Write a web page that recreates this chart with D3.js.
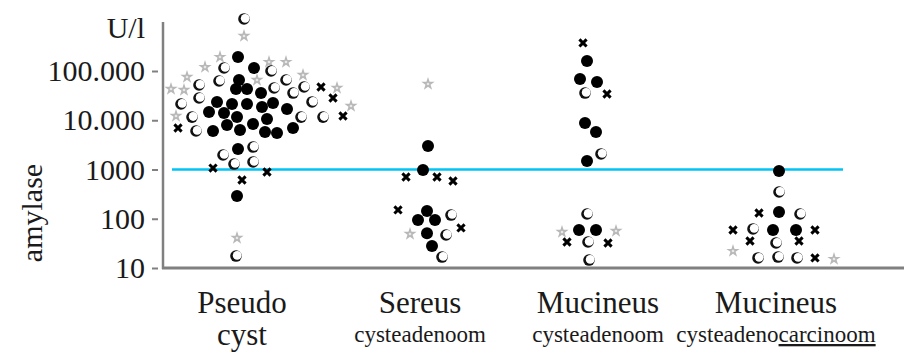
<!DOCTYPE html>
<meta charset="utf-8">
<style>
body { margin: 0; background: #fff; }
svg { display: block; }
text { font-family: "Liberation Serif", "Times New Roman", serif; fill: #1a1a1a; }
</style>
<body>
<svg id="chart" width="911" height="355"></svg>
<script src="https://cdn.jsdelivr.net/npm/d3@7"></script>
<script>

// categories (two label lines each)
var categories = ["pseudo", "sereus", "mucineus", "carcinoom"];
var labelTop = ["Pseudo", "Sereus", "Mucineus", "Mucineus"];
var labelBottom = ["cyst", "cysteadenoom", "cysteadenoom", "cysteadeno"];

var tickValues = [10, 100, 1000, 10000, 100000];
var tickLabels = ["10", "100", "1000", "10.000", "100.000"];
var cutoff = 1000;

// [marker, horizontal spread within the group, amylase U/l]
// f = filled circle, o = open circle, x = cross, s = grey star
var pseudoCyst = [
  ["o",2,1140000],["s",2,514000],["f",-4,192000],["f",12,115000],["o",-18,115000],
  ["s",-22,192000],["s",-37,120000],["s",27,152000],["s",44,152000],["o",29,100000],
  ["f",-3,65600],["o",-23,62700],["s",15,65600],["o",44,65600],["s",61,83000],
  ["o",62,47300],["s",-55,75500],["o",-43,52000],["s",-71,43100],["s",-58,41100],
  ["f",-6,43100],["f",5,43100],["f",19,35700],["o",32,45200],["o",51,35700],
  ["x",79,47300],["s",95,45200],["x",91,28300],["o",-43,28300],["f",-25,23500],
  ["f",-10,21400],["f",5,21400],["f",20,18600],["f",31,22400],["o",70,23500],
  ["s",109,19500],["o",-61,21400],["f",-33,14700],["f",-18,14000],["f",45,16900],
  ["o",-50,11600],["s",-66,12200],["f",-5,11600],["f",25,10600],["o",59,11600],
  ["o",81,11600],["x",101,12200],["x",-64,6970],["o",-46,6050],["f",-29,6050],
  ["f",-15,8010],["f",-2,6340],["f",11,8390],["f",23,5770],["f",35,5510],
  ["f",51,6970],["f",-4,2610],["o",11,2860],["o",-19,1970],["o",-8,1290],
  ["o",11,1420],["x",-29,1070],["x",25,890],["x",0,612],["f",-5,290],
  ["s",-5,40.6],["o",-6,17.5]
];

var sereus = [
  ["s",8,54500],["f",8,3000],["f",3,980],["x",-14,705],["x",17,705],
  ["x",33,584],["x",-22,151],["f",7,144],["f",-2,94],["f",15,94],
  ["o",31,119],["x",41,65],["s",-10,49],["f",7,51],["o",26,46.8],
  ["f",12,28],["o",22,16.7]
];

var mucineus = [
  ["x",-15,371000],["f",-11,160000],["f",-18,68800],["f",-1,59800],["o",-13,35700],
  ["x",9,34100],["f",-13,8790],["f",-2,5770],["o",3,2070],["f",-11,1490],
  ["o",-11,125],["s",-36,53.8],["f",-19,59],["f",-2,59],["s",18,56.4],
  ["x",-31,33.7],["o",-10,33.7],["x",10,32.2],["o",-9,14.5]
];

var carcinoom = [
  ["f",3,933],["o",3,349],["x",-17,131],["f",3,137],["o",24,125],
  ["x",-43,59],["o",-23,62],["f",-3,59],["f",20,59],["x",39,59],
  ["x",-26,35.3],["o",0,32.2],["x",23,35.3],["s",-43,22.1],["o",-18,16],
  ["o",2,16.7],["o",21,16],["x",39,16],["s",58,15.2]
];

var groups = [pseudoCyst, sereus, mucineus, carcinoom];

var svg = d3.select("#chart");

var y = d3.scaleLog().domain([10, 100000]).range([268, 71]);
var x = d3.scaleBand().domain(categories).range([153, 865]);
var spread = d3.scaleLinear().domain([-89, 89]).range([-x.bandwidth() / 2, x.bandwidth() / 2]);

var axisX = 163, axisRight = 904, axisTop = 22;

// y axis: detached ticks + line
var yAxis = d3.axisLeft(y)
  .tickValues(tickValues)
  .tickFormat(function(d, i) { return tickLabels[i]; })
  .tickSize(6)
  .tickPadding(7);

var gy = svg.append("g")
  .attr("transform", "translate(" + (axisX - 5) + ",0)")
  .call(yAxis);
gy.select(".domain").remove();
gy.selectAll(".tick line").attr("stroke", "#808080").attr("stroke-width", 2);
gy.selectAll(".tick text")
  .style("font-family", "Liberation Serif, serif")
  .style("font-size", "30px")
  .attr("fill", "#1a1a1a");

svg.append("line")
  .attr("x1", axisX).attr("x2", axisX)
  .attr("y1", axisTop).attr("y2", y(10) + 1)
  .attr("stroke", "#808080").attr("stroke-width", 2.5);

svg.append("line")
  .attr("x1", axisX - 1).attr("x2", axisRight)
  .attr("y1", y(10)).attr("y2", y(10))
  .attr("stroke", "#808080").attr("stroke-width", 3);

svg.append("text")
  .attr("x", axisX - 18).attr("y", 38)
  .attr("text-anchor", "end")
  .style("font-size", "30px")
  .text("U/l");

svg.append("text")
  .attr("transform", "translate(42," + 213 + ") rotate(-90)")
  .attr("text-anchor", "middle")
  .style("font-size", "30px")
  .text("amylase");

// cutoff line
svg.append("line")
  .attr("x1", axisX + 9).attr("x2", 843)
  .attr("y1", y(cutoff)).attr("y2", y(cutoff))
  .attr("stroke", "#00c4f4").attr("stroke-width", 2.5);

// points
var star = d3.symbol().type(d3.symbolStar).size(55);

groups.forEach(function(pts, gi) {
  var cx = x(categories[gi]) + x.bandwidth() / 2;
  var g = svg.append("g");
  pts.forEach(function(p) {
    var px = cx + spread(p[1]), py = y(p[2]);
    var m = g.append("g").attr("transform", "translate(" + px + "," + py + ")");
    if (p[0] == "f") {
      m.append("circle").attr("r", 6).attr("fill", "#000");
    } else if (p[0] == "o") {
      m.append("circle").attr("r", 5.8).attr("fill", "#111");
      m.append("circle").attr("r", 4.4).attr("cx", 1.2).attr("cy", -0.6).attr("fill", "#fff");
    } else if (p[0] == "x") {
      m.append("path")
        .attr("d", "M-3.6,-3.6L3.6,3.6M-3.6,3.6L3.6,-3.6")
        .attr("stroke", "#000").attr("stroke-width", 3);
    } else {
      m.append("path").attr("d", star).attr("fill", "#b8b8b8");
      m.append("circle").attr("r", 1.3).attr("fill", "#e8e8e8");
    }
  });
});

// category labels
var labels = svg.append("g");
categories.forEach(function(c, i) {
  var cx = x(c) + x.bandwidth() / 2;
  labels.append("text")
    .attr("x", cx).attr("y", 313)
    .attr("text-anchor", "middle")
    .style("font-size", "31px")
    .text(labelTop[i]);
  var t = labels.append("text")
    .attr("x", cx).attr("y", i == 0 ? 345 : 342)
    .attr("text-anchor", "middle")
    .style("font-size", i == 0 ? "31px" : "23px")
    .text(labelBottom[i]);
  if (c == "carcinoom") {
    t.append("tspan").attr("text-decoration", "underline").text("carcinoom");
  }
});

</script>
</body>
